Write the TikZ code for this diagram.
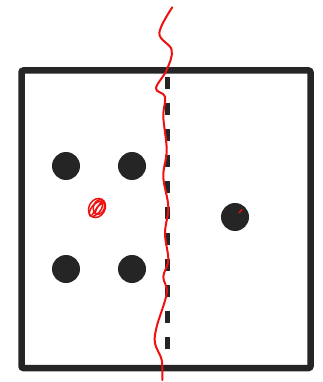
\documentclass[tikz,border=0pt]{standalone}
\usetikzlibrary{calc}
\definecolor{ink}{HTML}{252525}
\definecolor{pen}{HTML}{F01010}
\tikzset{
  frame/.style={draw=ink, line width=6.5pt, rounded corners=2pt},
  divider/.style={draw=ink, line width=5pt, dash pattern=on 12pt off 14pt},
  dot/.style={circle, fill=ink, minimum size=28pt, inner sep=0pt},
  redline/.style={draw=pen, line width=2pt, line cap=round, line join=round},
  scribble/.style={draw=pen, line width=1.5pt},
}
\begin{document}
\begin{tikzpicture}[x=1pt,y=-1pt]
\useasboundingbox (0,0) rectangle (322,382);
\fill[white] (0,0) rectangle (322,382);
\draw[frame] (21.5,70.5) rectangle (310.5,368);
\coordinate (dtop) at (167,77);
\coordinate (dbot) at (167,356);
\draw[divider] (dtop) -- (dbot);
\node[dot] (a) at (66,166) {};
\node[dot] (b) at (132,166) {};
\node[dot] (c) at (66,269) {};
\node[dot] (d) at (132,269) {};
\node[dot] (e) at (235,217) {};
% red wavy line
\draw[redline] plot[smooth, tension=0.6] coordinates {
 (172.3,7.3) (159.3,33.3) (171.7,50) (166.7,70) (156,88.3) (165,96.7)
 (163.3,116.7) (166.7,150) (163.3,176.7) (168.3,206.7) (165,233.3)
 (168.3,260) (163.3,276.7) (166.7,293.3) (156.7,326.7) (155,343.3)
 (161.7,360) (162.3,380)};
% red scribble
\draw[scribble, rotate around={60:(97,208)}] (97,208) ellipse (10pt and 8pt);
\draw[scribble, rotate around={70:(99,207)}] (99,207) ellipse (7.5pt and 5.5pt);
\draw[scribble, rotate around={50:(96,209)}] (96,209) ellipse (9pt and 4.5pt);
\draw[scribble] (92,215) -- (102,201);
\draw[scribble] (95,214) .. controls (97,206) .. (104,203);
% small red mark on right dot
\draw[pen, line width=1.3pt, line cap=round] (239,213) -- (242,209.5);
\end{tikzpicture}
\end{document}
